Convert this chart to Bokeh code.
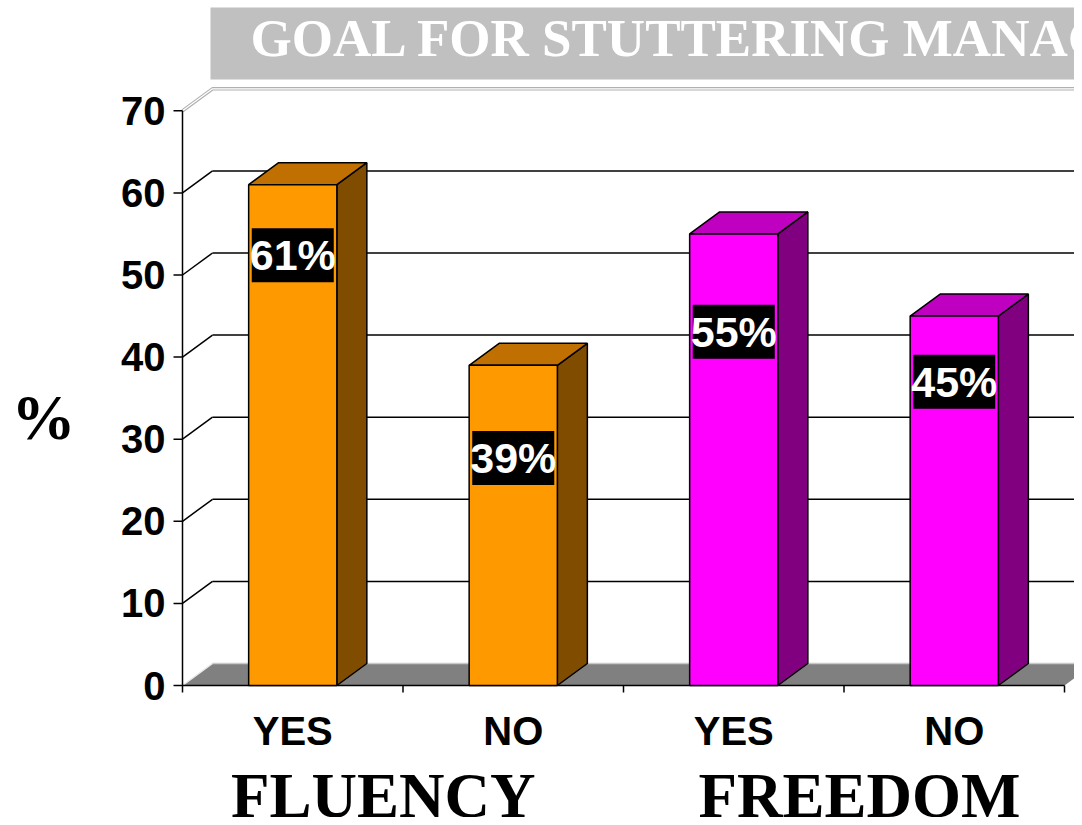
from bokeh.plotting import figure
from bokeh.models import Range1d
from bokeh.core.properties import value
from bokeh.embed import file_html
from bokeh.resources import INLINE

# ---------------- data ----------------
categories = ["YES", "NO", "YES", "NO"]
groups = ["FLUENCY", "FREEDOM"]
values = [61, 39, 55, 45]
value_labels = ["61%", "39%", "55%", "45%"]
y_ticks = [0, 10, 20, 30, 40, 50, 60, 70]
y_tick_labels = ["0", "10", "20", "30", "40", "50", "60", "70"]
title_text = "GOAL FOR STUTTERING MANAGEMENT"
y_label = "%"

# ---------------- styling / layout ----------------
front_colors = ["#FF9900", "#FF9900", "#FF00FF", "#FF00FF"]
top_colors = ["#C07000", "#C07000", "#C000C0", "#C000C0"]
side_colors = ["#7F4C00", "#7F4C00", "#800080", "#800080"]
label_drop = [8.6, 11.3, 11.9, 8.0]      # value-label offset below bar top (value units)
group_label_shift = [-0.09, 0.07]        # group title offset from group centre (category units)

W, H = 1074, 817
PX_X = 220.5      # pixels per category slot
PX_Y = 8.21       # pixels per value unit
OX, OY = 182, 685 # canvas position of the origin

def fx(X):
    return (X - OX) / PX_X

def fy(Y):
    return (OY - Y) / PX_Y

DX = 30 / PX_X
DY = 22 / PX_Y
BAR_W = 0.4
n = len(values)
XMAX = 6

p = figure(width=W, height=H,
           x_range=Range1d(fx(0), fx(W)),
           y_range=Range1d(fy(H), fy(0)),
           output_backend="svg", toolbar_location=None,
           x_axis_type=None, y_axis_type=None, min_border=0)
p.grid.visible = False
p.outline_line_color = None
p.background_fill_color = "white"
p.border_fill_color = "white"

SANS = value("Liberation Sans")
SERIF = value("Liberation Serif")

# ---- title box ----
p.quad(left=[fx(210)], right=[XMAX], bottom=[fy(79)], top=[fy(7)],
       fill_color="#C0C0C0", line_color=None)
p.text(x=[fx(250)], y=[fy(37.5)], text=[title_text], text_color="white",
       text_font=SERIF, text_font_style="bold", text_font_size="53px",
       text_align="left", text_baseline="middle")

# ---- floor ----
p.patch(x=[0, n, n + DX, DX], y=[0, 0, DY, DY], fill_color="#808080", line_color=None)
p.line(x=[DX, XMAX], y=[DY, DY], line_color="#C8C8C8", line_width=1.5)
p.line(x=[0, DX], y=[0, DY], line_color="#E8E8E8", line_width=1.5)

# ---- back wall gridlines & left-wall diagonals ----
inner = y_ticks[1:-1]
p.multi_line(xs=[[DX, XMAX] for v in inner], ys=[[v + DY, v + DY] for v in inner],
             line_color="black", line_width=1.5)
p.multi_line(xs=[[0, DX] for v in inner], ys=[[v, v + DY] for v in inner],
             line_color="black", line_width=1.5)
top = y_ticks[-1]
for lw, col in [(3.5, "#B0B0B0"), (1.2, "white")]:
    p.line(x=[0, DX, XMAX], y=[top, top + DY, top + DY], line_color=col, line_width=lw)

# ---- axes ----
p.line(x=[0, 0], y=[0, top], line_color="black", line_width=1.5)
p.multi_line(xs=[[fx(173), 0] for v in y_ticks], ys=[[v, v] for v in y_ticks],
             line_color="black", line_width=1.5)
p.text(x=[fx(165)] * len(y_ticks), y=y_ticks, text=y_tick_labels,
       text_font=SANS, text_font_style="bold", text_font_size="40px",
       text_align="right", text_baseline="middle", text_color="black")
p.line(x=[0, n], y=[0, 0], line_color="black", line_width=1.5)
p.multi_line(xs=[[i, i] for i in range(n + 1)], ys=[[0, fy(692)] for i in range(n + 1)],
             line_color="black", line_width=1.5)

# ---- bars (3D) ----
cx = [i + 0.5 for i in range(n)]
x0 = [c - BAR_W / 2 for c in cx]
x1 = [c + BAR_W / 2 for c in cx]
for i in range(n):
    v = values[i]
    p.patch(x=[x1[i], x1[i] + DX, x1[i] + DX, x1[i]], y=[0, DY, v + DY, v],
            fill_color=side_colors[i], line_color="black", line_width=1.5)
    p.patch(x=[x0[i], x1[i], x1[i] + DX, x0[i] + DX], y=[v, v, v + DY, v + DY],
            fill_color=top_colors[i], line_color="black", line_width=1.5)
    p.quad(left=[x0[i]], right=[x1[i]], bottom=[0], top=[v],
           fill_color=front_colors[i], line_color="black", line_width=1.5)

# ---- value labels ----
ly = [v - d for v, d in zip(values, label_drop)]
p.rect(x=cx, y=ly, width=82, height=54, width_units="screen", height_units="screen",
       fill_color="black", line_color=None)
p.text(x=cx, y=ly, text=value_labels, text_color="white",
       text_font=SANS, text_font_style="bold", text_font_size="43px",
       text_align="center", text_baseline="middle")

# ---- category labels ----
p.text(x=cx, y=[fy(730.5)] * n, text=categories, text_color="black",
       text_font=SANS, text_font_style="bold", text_font_size="40px",
       text_align="center", text_baseline="middle")
gx = [2 * g + 1 + s for g, s in enumerate(group_label_shift)]
p.text(x=gx, y=[fy(795)] * len(groups), text=groups, text_color="black",
       text_font=SERIF, text_font_style="bold", text_font_size="63px",
       text_align="center", text_baseline="middle")

# ---- y label ----
p.text(x=[fx(43)], y=[fy(417)], text=[y_label], text_color="black",
       text_font=SERIF, text_font_style="bold", text_font_size="64px",
       text_align="center", text_baseline="middle")

open("out.html", "w").write(file_html(p, INLINE))
